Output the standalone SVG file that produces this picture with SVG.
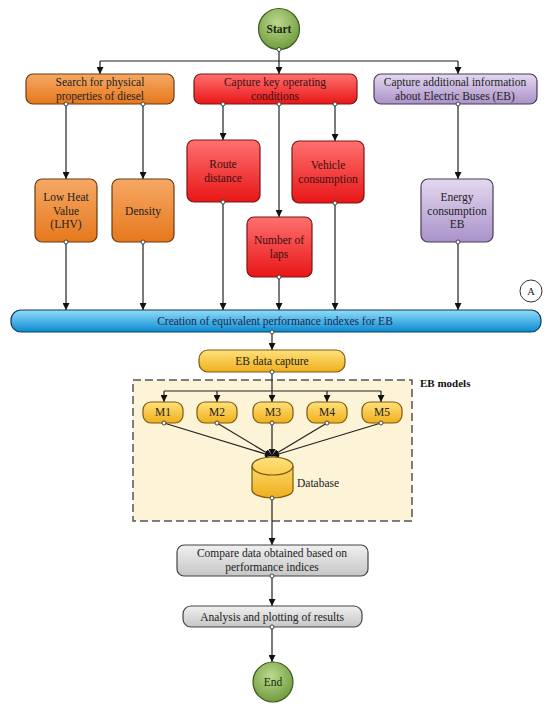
<svg xmlns="http://www.w3.org/2000/svg" width="550" height="709" viewBox="0 0 550 709">
<defs>
<linearGradient id="gOr" x1="0" y1="0" x2="0" y2="1"><stop offset="0" stop-color="#f6a865"/><stop offset="1" stop-color="#e6781c"/></linearGradient>
<linearGradient id="gRd" x1="0" y1="0" x2="0" y2="1"><stop offset="0" stop-color="#ff7070"/><stop offset="1" stop-color="#e81616"/></linearGradient>
<linearGradient id="gPu" x1="0" y1="0" x2="0" y2="1"><stop offset="0" stop-color="#e4d8f0"/><stop offset="1" stop-color="#a992c9"/></linearGradient>
<linearGradient id="gBl" x1="0" y1="0" x2="0" y2="1"><stop offset="0" stop-color="#92dcfa"/><stop offset="1" stop-color="#0a8ad2"/></linearGradient>
<linearGradient id="gYe" x1="0" y1="0" x2="0" y2="1"><stop offset="0" stop-color="#ffe27a"/><stop offset="1" stop-color="#f0ae1c"/></linearGradient>
<linearGradient id="gGy" x1="0" y1="0" x2="0" y2="1"><stop offset="0" stop-color="#f0f0f0"/><stop offset="1" stop-color="#c6c6c6"/></linearGradient>
<radialGradient id="gGr" cx="0.45" cy="0.35" r="0.7"><stop offset="0" stop-color="#bcd98e"/><stop offset="1" stop-color="#6a9838"/></radialGradient>
<marker id="arr" viewBox="0 0 10 10" refX="10" refY="5" markerWidth="7" markerHeight="7" orient="auto" markerUnits="userSpaceOnUse"><path d="M0,0 L10,5 L0,10 z" fill="#111"/></marker>
</defs>
<style>
text{font-family:"Liberation Serif","Times New Roman",serif;font-size:11.5px;fill:#222;text-anchor:middle}
.ln{fill:none;stroke:#222;stroke-width:1.2}
.port{fill:#fff;stroke:#333;stroke-width:0.9}
.or{fill:url(#gOr);stroke:#6b3a10;stroke-width:1.2}
.rd{fill:url(#gRd);stroke:#7a1414;stroke-width:1.2}
.pu{fill:url(#gPu);stroke:#4a3a5a;stroke-width:1.2}
.bl{fill:url(#gBl);stroke:#0a3a5a;stroke-width:1.2}
.ye{fill:url(#gYe);stroke:#7a5a10;stroke-width:1.2}
.gy{fill:url(#gGy);stroke:#444;stroke-width:1.2}
.gr{fill:url(#gGr);stroke:#3a5a20;stroke-width:1.2}
.rt{fill:#3a1010}
</style>
<rect x="0" y="0" width="550" height="709" fill="#fff"/>

<g id="ebmodels">
<rect x="133" y="380" width="279" height="141" fill="#fdf3d6" stroke="#555" stroke-width="1.5" stroke-dasharray="8,4"/>
<text x="420" y="387" style="font-weight:bold;text-anchor:start;font-size:11px;fill:#111">EB models</text>
</g>

<g id="connectors">
<path class="ln" d="M279,50 V61 M100,61 H458"/>
<path class="ln" d="M100,61 V74" marker-end="url(#arr)"/>
<path class="ln" d="M279,61 V74" marker-end="url(#arr)"/>
<path class="ln" d="M458,61 V74" marker-end="url(#arr)"/>
<path class="ln" d="M66,104 V179" marker-end="url(#arr)"/>
<path class="ln" d="M143,104 V179" marker-end="url(#arr)"/>
<path class="ln" d="M223,104 V140" marker-end="url(#arr)"/>
<path class="ln" d="M279,104 V217" marker-end="url(#arr)"/>
<path class="ln" d="M335,104 V141" marker-end="url(#arr)"/>
<path class="ln" d="M458,104 V179" marker-end="url(#arr)"/>
<path class="ln" d="M66,242 V310" marker-end="url(#arr)"/>
<path class="ln" d="M143,242 V310" marker-end="url(#arr)"/>
<path class="ln" d="M223,202 V310" marker-end="url(#arr)"/>
<path class="ln" d="M279,277 V310" marker-end="url(#arr)"/>
<path class="ln" d="M335,203 V310" marker-end="url(#arr)"/>
<path class="ln" d="M458,242 V310" marker-end="url(#arr)"/>
<path class="ln" d="M272,332 V350" marker-end="url(#arr)"/>
<path class="ln" d="M272,372 V402" marker-end="url(#arr)"/>
<path class="ln" d="M164,391 H381"/>
<path class="ln" d="M164,391 V402" marker-end="url(#arr)"/>
<path class="ln" d="M217,391 V402" marker-end="url(#arr)"/>
<path class="ln" d="M327,391 V402" marker-end="url(#arr)"/>
<path class="ln" d="M381,391 V402" marker-end="url(#arr)"/>
<path class="ln" d="M164,423 L272,456" marker-end="url(#arr)"/>
<path class="ln" d="M217,423 L272,456" marker-end="url(#arr)"/>
<path class="ln" d="M272,423 L272,456" marker-end="url(#arr)"/>
<path class="ln" d="M327,423 L272,456" marker-end="url(#arr)"/>
<path class="ln" d="M381,423 L272,456" marker-end="url(#arr)"/>
<path class="ln" d="M272,498 V545" marker-end="url(#arr)"/>
<path class="ln" d="M272,576 V606" marker-end="url(#arr)"/>
<path class="ln" d="M272,627 V662" marker-end="url(#arr)"/>
</g>

<g id="start"><circle class="gr" cx="279" cy="29" r="20.5"/><text x="279" y="33" style="font-weight:bold;fill:#1a2a10">Start</text><circle class="port" cx="279" cy="49.5" r="2"/></g>

<g id="search"><rect class="or" x="26" y="74" width="148" height="30" rx="7"/><text x="100" y="86">Search for physical</text><text x="100" y="100">properties of diesel</text><circle class="port" cx="66" cy="104" r="2"/><circle class="port" cx="143" cy="104" r="2"/></g>

<g id="capture"><rect class="rd" x="194" y="74" width="163" height="30" rx="7"/><text class="rt" x="275" y="86">Capture key operating</text><text class="rt" x="275" y="100">conditions</text><circle class="port" cx="223" cy="104" r="2"/><circle class="port" cx="279" cy="104" r="2"/><circle class="port" cx="335" cy="104" r="2"/></g>

<g id="additional"><rect class="pu" x="374" y="74" width="163" height="30" rx="7"/><text x="455" y="86">Capture additional information</text><text x="455" y="100">about Electric Buses (EB)</text><circle class="port" cx="458" cy="104" r="2"/></g>

<g id="lhv"><rect class="or" x="35" y="179" width="62" height="63" rx="7"/><text x="66" y="201">Low Heat</text><text x="66" y="215">Value</text><text x="66" y="228">(LHV)</text><circle class="port" cx="66" cy="242" r="2"/></g>

<g id="density"><rect class="or" x="112" y="179" width="62" height="63" rx="7"/><text x="143" y="215">Density</text><circle class="port" cx="143" cy="242" r="2"/></g>

<g id="route"><rect class="rd" x="187" y="140" width="73" height="62" rx="7"/><text class="rt" x="223" y="168">Route</text><text class="rt" x="223" y="182">distance</text><circle class="port" cx="223" cy="202" r="2"/></g>

<g id="vehicle"><rect class="rd" x="292" y="141" width="72" height="62" rx="7"/><text class="rt" x="328" y="169">Vehicle</text><text class="rt" x="328" y="183">consumption</text><circle class="port" cx="335" cy="203" r="2"/></g>

<g id="laps"><rect class="rd" x="247" y="217" width="65" height="60" rx="7"/><text class="rt" x="279" y="244">Number of</text><text class="rt" x="279" y="258">laps</text><circle class="port" cx="279" cy="277" r="2"/></g>

<g id="energy"><rect class="pu" x="421" y="179" width="72" height="63" rx="7"/><text x="457" y="201">Energy</text><text x="457" y="215">consumption</text><text x="457" y="228">EB</text><circle class="port" cx="458" cy="242" r="2"/></g>

<g id="markA"><circle cx="531" cy="291" r="11" fill="#fff" stroke="#333" stroke-width="1"/><text x="531" y="295" style="font-size:10.5px">A</text></g>

<g id="creation"><rect class="bl" x="11" y="310" width="530" height="22" rx="10"/><text x="275" y="325" style="fill:#1a2a4a">Creation of equivalent performance indexes for EB</text><circle class="port" cx="272" cy="332" r="2"/></g>

<g id="ebcapture"><rect class="ye" x="199" y="350" width="146" height="22" rx="9"/><text x="272" y="365">EB data capture</text><circle class="port" cx="272" cy="372" r="2"/></g>

<g id="m1"><rect class="ye" x="143" y="402" width="40" height="21" rx="8"/><text x="163" y="416">M1</text><circle class="port" cx="164" cy="423" r="2"/></g>
<g id="m2"><rect class="ye" x="197" y="402" width="40" height="21" rx="8"/><text x="217" y="416">M2</text><circle class="port" cx="217" cy="423" r="2"/></g>
<g id="m3"><rect class="ye" x="253" y="402" width="40" height="21" rx="8"/><text x="273" y="416">M3</text><circle class="port" cx="272" cy="423" r="2"/></g>
<g id="m4"><rect class="ye" x="307" y="402" width="40" height="21" rx="8"/><text x="327" y="416">M4</text><circle class="port" cx="327" cy="423" r="2"/></g>
<g id="m5"><rect class="ye" x="362" y="402" width="40" height="21" rx="8"/><text x="382" y="416">M5</text><circle class="port" cx="381" cy="423" r="2"/></g>

<g id="database"><path class="ye" d="M252,466 A20.5,9 0 0 1 293,466 V490 A20.5,8 0 0 1 252,490 Z"/><path d="M252,466 A20.5,9 0 0 0 293,466" fill="none" stroke="#7a5a10" stroke-width="1.2"/><text x="297" y="487" style="text-anchor:start">Database</text><circle class="port" cx="272" cy="498" r="2"/></g>

<g id="compare"><rect class="gy" x="177" y="545" width="191" height="31" rx="7"/><text x="272" y="557">Compare data obtained based on</text><text x="272" y="571">performance indices</text><circle class="port" cx="272" cy="576" r="2"/></g>

<g id="analysis"><rect class="gy" x="183" y="606" width="179" height="21" rx="8"/><text x="272" y="621">Analysis and plotting of results</text><circle class="port" cx="272" cy="627" r="2"/></g>

<g id="end"><circle class="gr" cx="273" cy="682" r="20"/><text x="273" y="686" style="fill:#1a2a10">End</text></g>
</svg>
